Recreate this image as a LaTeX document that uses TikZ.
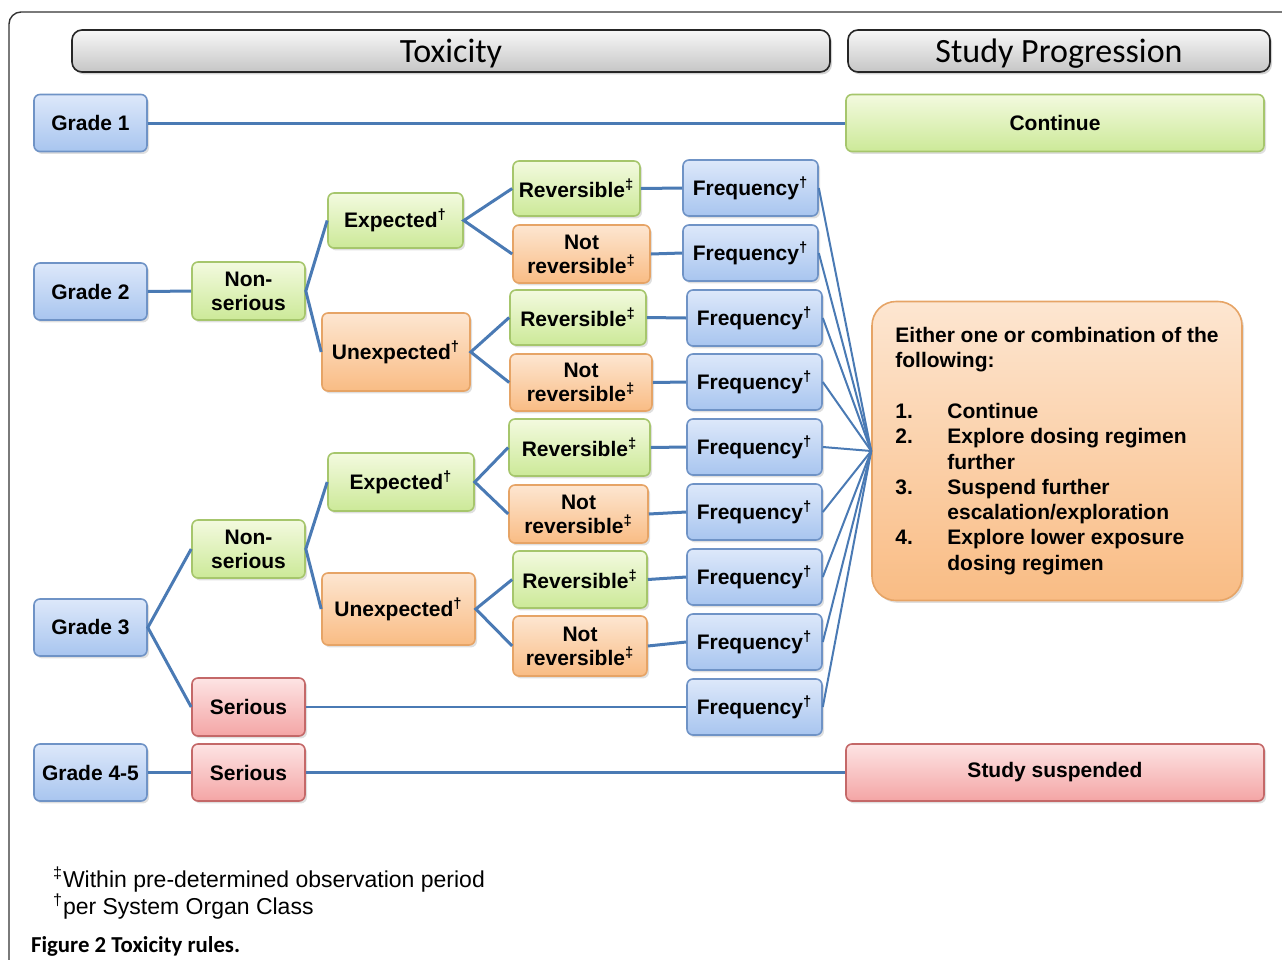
\documentclass[tikz,border=0pt]{standalone}
\usepackage{fontspec}
\setmainfont{Liberation Sans}
\newfontfamily\headfont{Carlito}
\usetikzlibrary{shadows}
\definecolor{linkblue}{HTML}{4A7AB4}
\definecolor{bluetop}{HTML}{DDE8FA}
\definecolor{bluebot}{HTML}{A8C5EF}
\definecolor{blueedge}{HTML}{6F93C6}
\definecolor{greentop}{HTML}{F3FADF}
\definecolor{greenbot}{HTML}{CCE998}
\definecolor{greenedge}{HTML}{A6C66C}
\definecolor{orangetop}{HTML}{FDE6D1}
\definecolor{orangebot}{HTML}{F9BC84}
\definecolor{orangeedge}{HTML}{E6A466}
\definecolor{redtop}{HTML}{FDE4E4}
\definecolor{redbot}{HTML}{F4A5A5}
\definecolor{rededge}{HTML}{C46868}

\begin{document}
\begin{tikzpicture}[x=0.5pt,y=-0.5pt,
  box/.style={draw,rounded corners=3pt,line width=0.8pt,align=center,inner sep=1pt,
    font=\bfseries\fontsize{10.5}{12}\selectfont,
    drop shadow={opacity=0.25,shadow xshift=1pt,shadow yshift=-1.2pt}},
  bluebox/.style={box,draw=blueedge,top color=bluetop,bottom color=bluebot},
  greenbox/.style={box,draw=greenedge,top color=greentop,bottom color=greenbot},
  orangebox/.style={box,draw=orangeedge,top color=orangetop,bottom color=orangebot},
  redbox/.style={box,draw=rededge,top color=redtop,bottom color=redbot},
  headbox/.style={draw=black!85,rounded corners=5pt,line width=0.8pt,text depth=0pt,
    top color=gray!6,bottom color=gray!45,font=\headfont\fontsize{17}{20}\selectfont,
    minimum height=21pt,drop shadow={opacity=0.35,shadow xshift=1pt,shadow yshift=-1.2pt}},
  grade/.style={bluebox,minimum width=56.5pt,minimum height=28.5pt},
  freq/.style={bluebox,minimum width=67.5pt,minimum height=28pt},
  mid/.style={minimum width=56.5pt,minimum height=29pt},
  link/.style={draw=linkblue,line width=1.5pt},
  thinlink/.style={draw=linkblue,line width=1pt}]
  \useasboundingbox (0,0) rectangle (1282,960);
  \draw[black!80,line width=0.7pt,rounded corners=6pt] (9,960) -- (9,12) -- (1290,12);

  \node[headbox,minimum width=379pt] (htox) at (451,51) {Toxicity};
  \node[headbox,minimum width=211pt] (hprog) at (1059,51) {Study Progression};

  \node[grade] (g1) at (90.5,123) {Grade 1};
  \node[greenbox,minimum width=209pt,minimum height=28.5pt] (cont) at (1055,123) {Continue};

  \node[grade] (g2) at (90.5,291.5) {Grade 2};
  \node[greenbox,mid] (ns2) at (248.5,291) {Non-\\serious};
  \node[greenbox,minimum width=67.5pt,minimum height=27.5pt] (exp2) at (395.5,220.5) {Expected\textsuperscript{\dag}};
  \node[orangebox,minimum width=74pt,minimum height=39pt] (unexp2) at (396,352) {Unexpected\textsuperscript{\dag}};
  \node[greenbox,minimum width=63.5pt,minimum height=27.5pt] (rev1) at (576.5,188.5) {Reversible\textsuperscript{\ddag}};
  \node[orangebox,minimum width=68.5pt,minimum height=29pt] (nrev1) at (581.5,254) {Not\\reversible\textsuperscript{\ddag}};
  \node[greenbox,minimum width=68pt,minimum height=27.5pt] (rev2) at (578,317.5) {Reversible\textsuperscript{\ddag}};
  \node[orangebox,minimum width=71pt,minimum height=28.5pt] (nrev2) at (581,382.5) {Not\\reversible\textsuperscript{\ddag}};

  \node[grade] (g3) at (90.5,627.5) {Grade 3};
  \node[greenbox,mid] (ns3) at (248.5,549) {Non-\\serious};
  \node[redbox,mid] (ser3) at (248.5,707) {Serious};
  \node[greenbox,minimum width=73pt,minimum height=29pt] (exp3) at (401,482) {Expected\textsuperscript{\dag}};
  \node[orangebox,minimum width=76.5pt,minimum height=36pt] (unexp3) at (398.5,609) {Unexpected\textsuperscript{\dag}};
  \node[greenbox,minimum width=70.5pt,minimum height=28.5pt] (rev3) at (579.5,447.5) {Reversible\textsuperscript{\ddag}};
  \node[orangebox,minimum width=69.5pt,minimum height=29pt] (nrev3) at (578.5,514) {Not\\reversible\textsuperscript{\ddag}};
  \node[greenbox,minimum width=67pt,minimum height=28.5pt] (rev4) at (580,579.5) {Reversible\textsuperscript{\ddag}};
  \node[orangebox,minimum width=67pt,minimum height=30pt] (nrev4) at (580,646) {Not\\reversible\textsuperscript{\ddag}};

  \node[freq] (f1) at (750.5,188) {Frequency\textsuperscript{\dag}};
  \node[freq] (f2) at (750.5,253) {Frequency\textsuperscript{\dag}};
  \foreach \i/\y in {3/318,4/382,5/447,6/512,7/577,8/642,9/707}
    \node[freq] (f\i) at (754.5,\y) {Frequency\textsuperscript{\dag}};

  \node[grade] (g45) at (90.5,772.5) {Grade 4-5};
  \node[redbox,mid,minimum height=28.5pt] (ser45) at (248.5,772.5) {Serious};
  \node[redbox,minimum width=209pt,minimum height=28.5pt] (susp) at (1055,772.5) {Study suspended};

  \node[orangebox,rounded corners=12pt,align=left,minimum width=185pt,minimum height=149.5pt,
    font=\bfseries\fontsize{10.5}{12.65}\selectfont] (opts) at (1057,451)
    {Either one or combination of the\\
     following:\\[12.65pt]
     \makebox[26pt][l]{1.}Continue\\
     \makebox[26pt][l]{2.}Explore dosing regimen\\
     \hspace*{26pt}further\\
     \makebox[26pt][l]{3.}Suspend further\\
     \hspace*{26pt}escalation/exploration\\
     \makebox[26pt][l]{4.}Explore lower exposure\\
     \hspace*{26pt}dosing regimen};

  \draw[link] (g1.east) -- (cont.west);
  \draw[link] (g2.east) -- (ns2.west);
  \draw[link] (exp2.west) -- (ns2.east) -- (unexp2.west);
  \draw[link] (rev1.west) -- (exp2.east) -- (nrev1.west);
  \draw[link] (rev2.west) -- (unexp2.east) -- (nrev2.west);
  \draw[link] (ns3.west) -- (g3.east) -- (ser3.west);
  \draw[link] (exp3.west) -- (ns3.east) -- (unexp3.west);
  \draw[link] (rev3.west) -- (exp3.east) -- (nrev3.west);
  \draw[link] (rev4.west) -- (unexp3.east) -- (nrev4.west);
  \draw[link] (rev1.east) -- (f1.west);
  \draw[link] (nrev1.east) -- (f2.west);
  \draw[link] (rev2.east) -- (f3.west);
  \draw[link] (nrev2.east) -- (f4.west);
  \draw[link] (rev3.east) -- (f5.west);
  \draw[link] (nrev3.east) -- (f6.west);
  \draw[link] (rev4.east) -- (f7.west);
  \draw[link] (nrev4.east) -- (f8.west);
  \draw[thinlink] (ser3.east) -- (f9.west);
  \draw[link] (g45.east) -- (ser45.west);
  \draw[link] (ser45.east) -- (susp.west);
  \foreach \i in {1,...,9}
    \draw[thinlink] (f\i.east) -- (opts.west);

  \node[anchor=base west,font=\fontsize{11.5}{13}\selectfont] (fn1) at (46,887)
    {\textsuperscript{\ddag}Within pre-determined observation period};
  \node[anchor=base west,font=\fontsize{11.5}{13}\selectfont] (fn2) at (46,914)
    {\textsuperscript{\dag}per System Organ Class};
  \node[anchor=base west,font=\headfont\bfseries\fontsize{11.4}{13}\selectfont] (cap) at (24,952)
    {Figure 2 Toxicity rules.};
\end{tikzpicture}
\end{document}
